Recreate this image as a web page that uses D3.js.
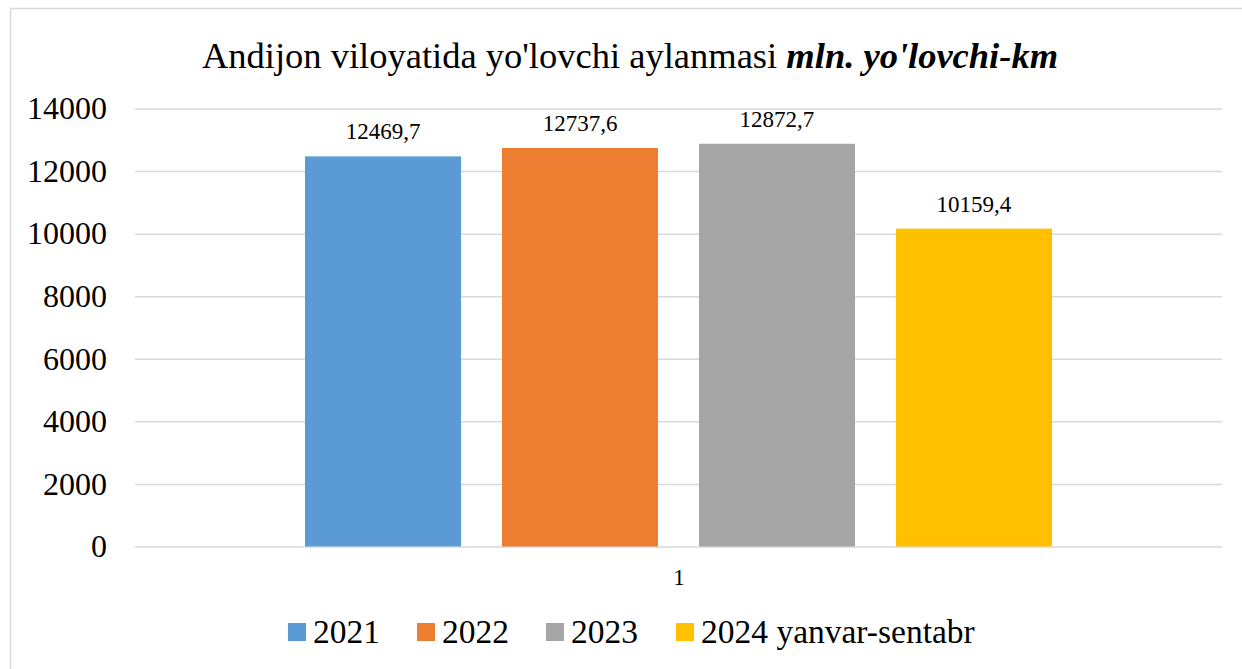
<!DOCTYPE html>
<html>
<head>
<meta charset="utf-8">
<script src="https://cdn.jsdelivr.net/npm/d3@7"></script>
<style>
  body { margin: 0; background: #fff; }
  text { font-family: "Liberation Serif", "Times New Roman", serif; fill: #000; }
</style>
</head>
<body>
<div class="chart-container"></div>
<script>
// data
const categories = ['1'];
const series = ['2021', '2022', '2023', '2024 yanvar-sentabr'];
const values = [12469.7, 12737.6, 12872.7, 10159.4];
const colors = ['#5b9bd5', '#ed7d31', '#a5a5a5', '#ffc000'];
const yTicks = [0, 2000, 4000, 6000, 8000, 10000, 12000, 14000];

const W = 1242, H = 669;
const margin = {top: 108.5, right: 20, bottom: 122.5, left: 135};
const width = 1222 - margin.left;
const height = 546.5 - margin.top;

const svg = d3.select('.chart-container')
  .append('svg')
  .attr('width', W)
  .attr('height', H);

// chart frame
svg.append('rect')
  .attr('x', 10.5).attr('y', 8.5)
  .attr('width', W + 20).attr('height', H + 20)
  .attr('fill', '#fff')
  .attr('stroke', '#d9d9d9')
  .attr('stroke-width', 1.5);

// title
const title = svg.append('text')
  .attr('x', 630)
  .attr('y', 68)
  .attr('text-anchor', 'middle')
  .style('font-size', '36.5px');
title.append('tspan').text("Andijon viloyatida yo'lovchi aylanmasi ");
title.append('tspan')
  .style('font-style', 'italic')
  .style('font-weight', 'bold')
  .text("mln. yo'lovchi-km");

const g = svg.append('g')
  .attr('transform', `translate(${margin.left}, ${margin.top})`);

// scales
const x0 = d3.scaleBand()
  .domain(categories)
  .range([0, width]);

const x1 = d3.scaleBand()
  .domain(series)
  .range([0, x0.bandwidth()])
  .paddingInner(0.208)
  .paddingOuter(0.863);

const y = d3.scaleLinear()
  .domain([0, 14000])
  .range([height, 0]);

// gridlines + y labels
const yAxis = d3.axisLeft(y)
  .tickValues(yTicks)
  .tickSize(-width)
  .tickPadding(28)
  .tickFormat(d3.format('d'));

const yAxisDraw = g.append('g')
  .attr('class', 'y axis')
  .attr('font-family', null)
  .call(yAxis);
yAxisDraw.attr('font-family', null);
yAxisDraw.select('.domain').remove();
yAxisDraw.selectAll('line')
  .attr('stroke', '#d9d9d9')
  .attr('stroke-width', 1.5);
yAxisDraw.selectAll('text')
  .style('font-size', '32px')
  .attr('fill', '#000');

// bars
const rows = series.map((s, i) => ({series: s, value: values[i], color: colors[i], cat: categories[0]}));

const groups = g.selectAll('.cat')
  .data(categories)
  .join('g')
  .attr('class', 'cat')
  .attr('transform', d => `translate(${x0(d)}, 0)`);

groups.selectAll('.bar')
  .data(rows)
  .join('rect')
  .attr('class', 'bar')
  .attr('x', d => x1(d.series))
  .attr('y', d => y(d.value))
  .attr('width', x1.bandwidth())
  .attr('height', d => height - y(d.value))
  .attr('fill', d => d.color);

// value labels
groups.selectAll('.label')
  .data(rows)
  .join('text')
  .attr('class', 'label')
  .attr('x', d => x1(d.series) + x1.bandwidth() / 2)
  .attr('y', d => y(d.value) - 17)
  .attr('text-anchor', 'middle')
  .style('font-size', '23px')
  .text(d => d3.format('.1f')(d.value).replace('.', ','));

// category axis label
g.selectAll('.cat-label')
  .data(categories)
  .join('text')
  .attr('class', 'cat-label')
  .attr('x', d => x0(d) + x0.bandwidth() / 2 + 0.5)
  .attr('y', height + 38)
  .attr('text-anchor', 'middle')
  .style('font-size', '23px')
  .text(d => d);

// legend
const legendX = [288, 417, 546, 676];
const legend = svg.append('g').attr('class', 'legend');
const items = legend.selectAll('g')
  .data(series)
  .join('g')
  .attr('transform', (d, i) => `translate(${legendX[i]}, 623)`);
items.append('rect')
  .attr('width', 18).attr('height', 18)
  .attr('fill', (d, i) => colors[i]);
items.append('text')
  .attr('x', 25)
  .attr('y', 20)
  .style('font-size', '33.5px')
  .text(d => d);
</script>
</body>
</html>
